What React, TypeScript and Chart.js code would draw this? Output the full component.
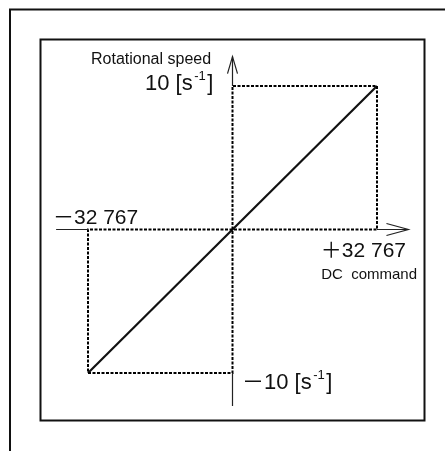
import React, { useEffect, useRef } from "react";
import { Chart, registerables } from "chart.js";

Chart.register(...registerables);

// Data (DC command units on x, rotational speed [s^-1] on y)
const X_LIMIT = 32767;
const Y_LIMIT = 10;
const mainLine = [
  { x: -32767, y: -10 },
  { x: 32767, y: 10 },
];
const upperBox = [
  { x: 0, y: 0 },
  { x: 0, y: 10 },
  { x: 32767, y: 10 },
  { x: 32767, y: 0 },
  { x: 0, y: 0 },
];
const lowerBox = [
  { x: 0, y: 0 },
  { x: -32767, y: 0 },
  { x: -32767, y: -10 },
  { x: 0, y: -10 },
  { x: 0, y: 0 },
];
// axis extents (data units)
const X_AXIS_RANGE = [-40000, 39900];
const Y_AXIS_RANGE = [-12.3, 12.05];

const FONT = "'Liberation Sans', Arial, 'Noto Sans CJK JP', sans-serif";
const INK = "#111111";

const decorPlugin = {
  id: "decor",
  beforeDraw(chart: any) {
    const ctx = chart.ctx;
    ctx.save();
    ctx.fillStyle = "#ffffff";
    ctx.fillRect(0, 0, chart.width, chart.height);
    ctx.strokeStyle = INK;
    ctx.lineWidth = 2;
    // outer frame (open at right and bottom)
    ctx.beginPath();
    ctx.moveTo(10, 460);
    ctx.lineTo(10, 9.5);
    ctx.lineTo(460, 9.5);
    ctx.stroke();
    // inner box
    ctx.strokeRect(40.5, 39.5, 384, 381);
    ctx.restore();
  },
  afterDatasetsDraw(chart: any) {
    const ctx = chart.ctx;
    const xs = chart.scales.x;
    const ys = chart.scales.y;
    const px = (v: number) => xs.getPixelForValue(v);
    const py = (v: number) => ys.getPixelForValue(v);
    const x0 = px(0);
    const y0 = py(0);
    ctx.save();
    ctx.strokeStyle = "#222";
    ctx.lineWidth = 1.2;
    // x axis solid parts
    ctx.beginPath();
    ctx.moveTo(px(X_AXIS_RANGE[0]), y0);
    ctx.lineTo(px(-X_LIMIT), y0);
    ctx.moveTo(px(X_LIMIT), y0);
    ctx.lineTo(px(X_AXIS_RANGE[1]), y0);
    ctx.stroke();
    // x arrow head
    const xt = px(X_AXIS_RANGE[1]);
    ctx.beginPath();
    ctx.moveTo(xt - 22, y0 - 6);
    ctx.lineTo(xt, y0);
    ctx.lineTo(xt - 22, y0 + 6);
    ctx.stroke();
    // y axis solid parts
    ctx.beginPath();
    ctx.moveTo(x0, py(Y_AXIS_RANGE[1]));
    ctx.lineTo(x0, py(Y_LIMIT));
    ctx.moveTo(x0, py(-Y_LIMIT));
    ctx.lineTo(x0, py(Y_AXIS_RANGE[0]));
    ctx.stroke();
    const yt = py(Y_AXIS_RANGE[1]);
    ctx.beginPath();
    ctx.moveTo(x0 - 5, yt + 17);
    ctx.lineTo(x0, yt);
    ctx.lineTo(x0 + 5, yt + 17);
    ctx.stroke();

    // labels
    ctx.fillStyle = INK;
    ctx.textBaseline = "alphabetic";
    const drawUnit = (prefix: string, xLeft: number, base: number, size: number) => {
      ctx.textAlign = "left";
      ctx.font = `${size}px ${FONT}`;
      let x = xLeft;
      const a = prefix + " [s";
      ctx.fillText(a, x, base);
      x += ctx.measureText(a).width;
      ctx.font = `${Math.round(size * 0.6)}px ${FONT}`;
      ctx.fillText("-1", x + 1.5, base - size * 0.47);
      x += ctx.measureText("-1").width + 3;
      ctx.font = `${size}px ${FONT}`;
      ctx.fillText("]", x, base);
      return x + ctx.measureText("]").width;
    };
    // Rotational speed
    ctx.font = `16px ${FONT}`;
    ctx.textAlign = "left";
    ctx.fillText("Rotational speed", 91, 64);
    // 10 [s-1]
    drawUnit("10", 145, 90, 22);
    // -10 [s-1]
    drawUnit("\uFF0D10", 242, 389, 22);
    // -32 767
    ctx.font = `21px ${FONT}`;
    ctx.textAlign = "left";
    ctx.fillText("\uFF0D32 767", 53, 224);
    // +32 767
    ctx.textAlign = "right";
    ctx.fillText("\uFF0B32 767", 406, 257);
    // DC command
    ctx.font = `15px ${FONT}`;
    ctx.fillText("DC  command", 417, 279);
    ctx.restore();
  },
};

export default function App() {
  const ref = useRef<HTMLCanvasElement | null>(null);
  useEffect(() => {
    document.body.style.margin = "0";
    const canvas = ref.current!;
    const dashed = {
      showLine: true,
      borderColor: "#000000",
      borderWidth: 2,
      borderDash: [3, 1.5],
      pointRadius: 0,
      fill: false,
      tension: 0,
      clip: false as any,
    };
    const chart = new Chart(canvas, {
      type: "scatter",
      data: {
        datasets: [
          { data: upperBox, ...dashed },
          { data: lowerBox, ...dashed },
          {
            data: mainLine,
            showLine: true,
            borderColor: INK,
            borderWidth: 2.2,
            pointRadius: 0,
            clip: false as any,
          },
        ],
      },
      options: {
        animation: false,
        responsive: false,
        events: [],
        layout: { padding: { left: 88, right: 68, top: 86, bottom: 78 } },
        scales: {
          x: { type: "linear", min: -X_LIMIT, max: X_LIMIT, display: false },
          y: { type: "linear", min: -Y_LIMIT, max: Y_LIMIT, display: false },
        },
        plugins: { legend: { display: false }, tooltip: { enabled: false } },
      },
      plugins: [decorPlugin],
    });
    return () => chart.destroy();
  }, []);
  return (
    <div style={{ position: "absolute", left: 0, top: 0, width: 445, height: 451 }}>
      <canvas ref={ref} width={445} height={451} />
    </div>
  );
}
